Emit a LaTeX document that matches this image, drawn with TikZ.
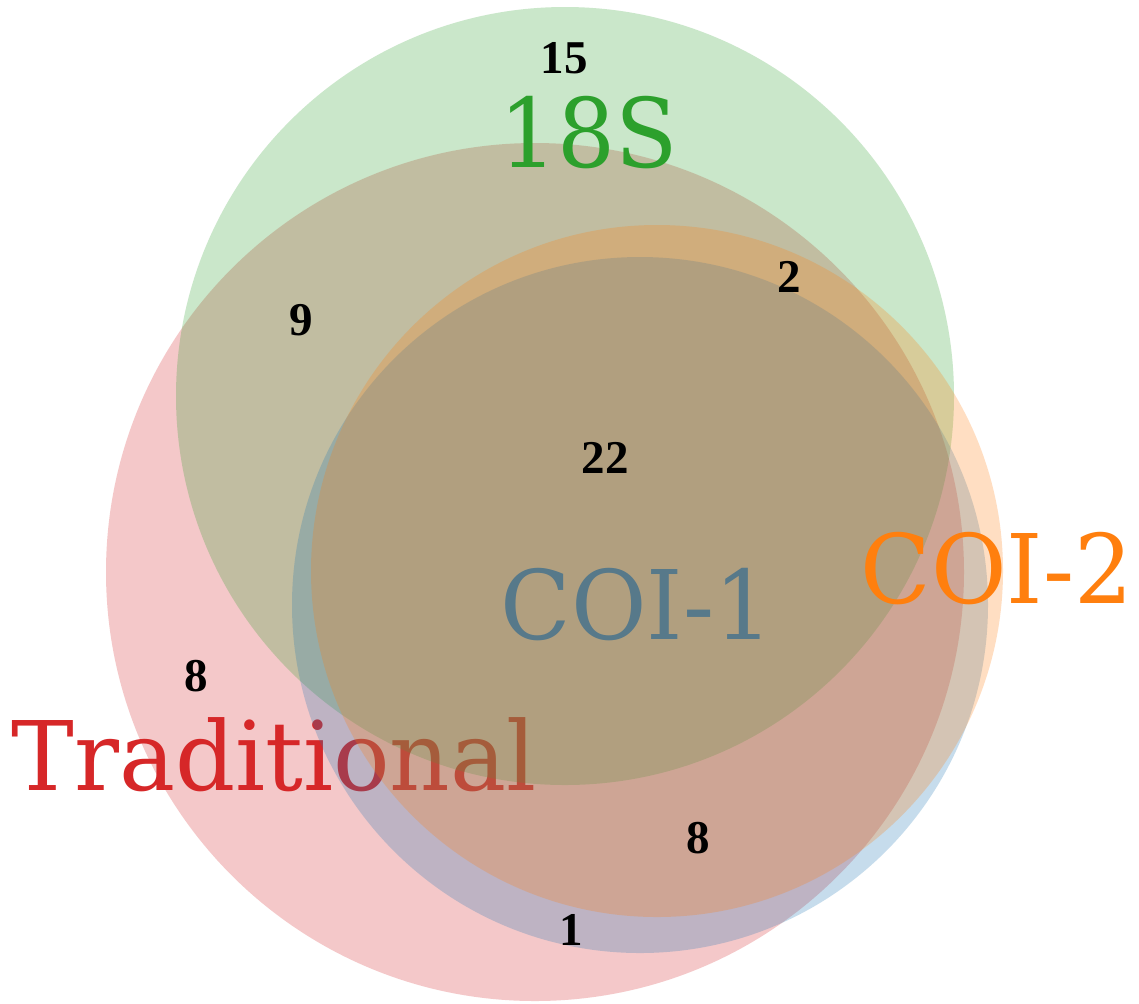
\documentclass[tikz,border=0pt]{standalone}
\usepackage{fontspec}
\newfontfamily\labfont{DejaVu Serif}
\newfontfamily\numfont{Liberation Serif}
\definecolor{tred}{HTML}{D62728}
\definecolor{tgreen}{HTML}{2CA02C}
\definecolor{tblue}{HTML}{1F77B4}
\definecolor{torange}{HTML}{FF7F0E}
\newcommand{\narrowlab}[2][0.96]{\scalebox{#1}[1]{#2}}
\tikzset{
  setfill/.style={fill=#1, fill opacity=0.25, draw=none},
  setlabel/.style={text=#1, inner sep=0pt, anchor=base, font=\labfont\fontsize{48}{58}\selectfont},
  count/.style={text=black, inner sep=0pt, anchor=center, font=\numfont\bfseries\fontsize{23.5}{28}\selectfont}
}
\begin{document}
\begin{tikzpicture}[x=0.5pt,y=-0.5pt]
\useasboundingbox (0,0) rectangle (1139,1003);
\fill[white] (0,0) rectangle (1139,1003);
% Traditional
\node[setlabel=tred] (ltrad) at (274,790) {\narrowlab[0.98]{Traditional}};
\path[setfill=tred] (535,572) circle[radius=214.5pt];
% 18S
\node[setlabel=tgreen] (l18s) at (589,167) {\narrowlab[0.95]{18S}};
\path[setfill=tgreen] (565,396) circle[radius=194.5pt];
% COI-1
\node[setlabel=tblue] (lcoi1) at (637,639) {\narrowlab{COI-1}};
\path[setfill=tblue] (640,605) circle[radius=174pt];
% COI-2
\node[setlabel=torange] (lcoi2) at (997,603) {\narrowlab{COI-2}};
\path[setfill=torange] (657,571) circle[radius=173pt];
% counts
\node[count] (n15) at (564,58.5) {15};
\node[count] (n2) at (789,277) {2};
\node[count] (n9) at (301,320) {9};
\node[count] (n22) at (605,458) {22};
\node[count] (n8a) at (196,676) {8};
\node[count] (n8b) at (698,838) {8};
\node[count] (n1) at (571,930) {1};
\end{tikzpicture}
\end{document}
